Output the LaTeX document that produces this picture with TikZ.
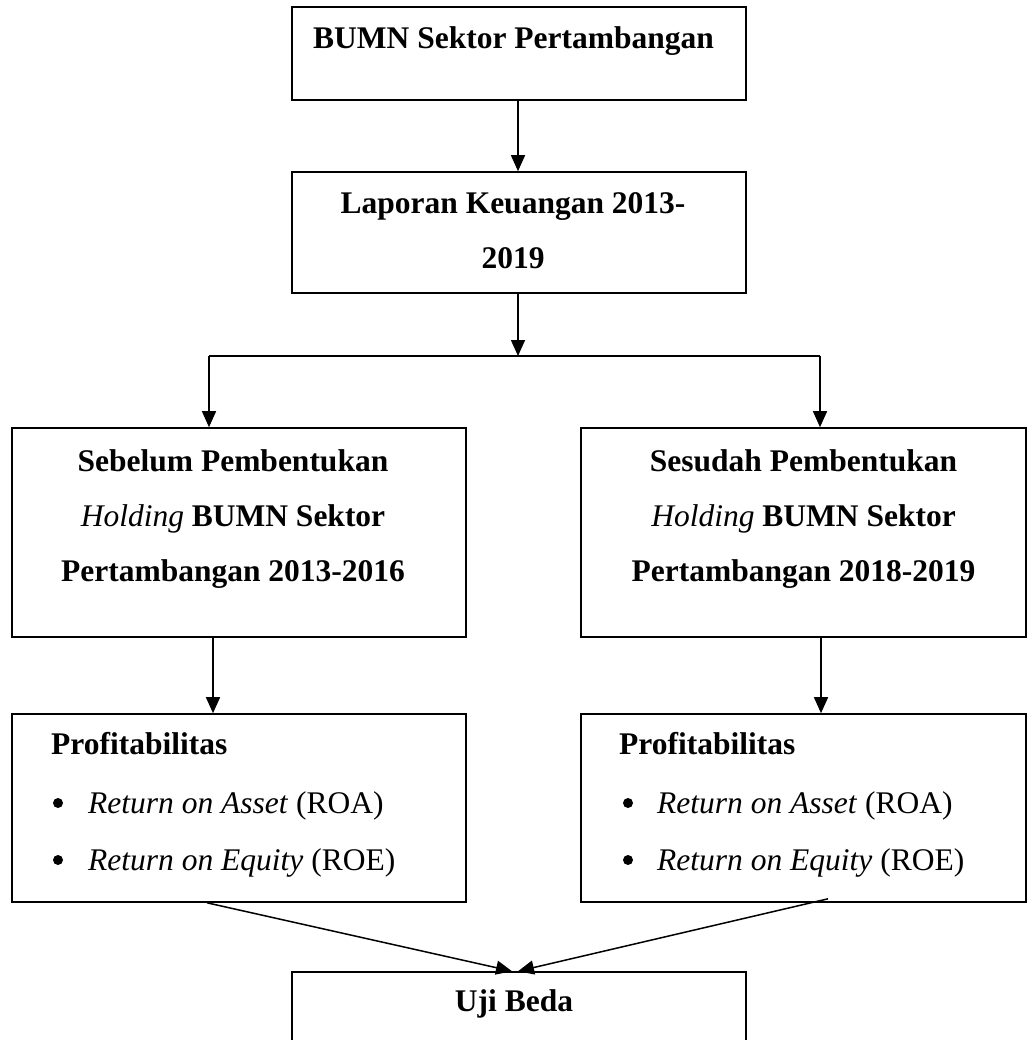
\documentclass[tikz,border=0pt]{standalone}
\usepackage{fontspec}
\setmainfont{Liberation Serif}
\usetikzlibrary{arrows.meta}
\newcommand{\hstrut}{\rule{0pt}{25pt}}
\begin{document}
\begin{tikzpicture}[x=1pt,y=-1pt,
  box/.style={draw, line width=1.6pt, inner sep=0pt},
  txt/.style={inner sep=0pt, font=\fontsize{31.5}{55}\selectfont\bfseries, align=center, anchor=north},
  head/.style={inner sep=0pt, font=\fontsize{31.5}{55}\selectfont\bfseries, anchor=base west},
  itm/.style={inner sep=0pt, font=\fontsize{31.5}{55}\selectfont, anchor=base west},
  dot/.style={fill=black},
  conn/.style={line width=1.5pt, -{Triangle[length=16pt,width=14pt]}},
  plain/.style={line width=1.5pt}
]
\useasboundingbox (0,0) rectangle (1027,1040);
\clip (0,0) rectangle (1027,1040);

% boxes
\node[box, minimum width=454pt, minimum height=93pt]  (b1) at (519,53.5) {};
\node[box, minimum width=454pt, minimum height=121pt] (b2) at (519,232.5) {};
\node[box, minimum width=454pt, minimum height=209pt] (b3) at (239,532.5) {};
\node[box, minimum width=445pt, minimum height=209pt] (b4) at (803.5,532.5) {};
\node[box, minimum width=454pt, minimum height=188pt] (b5) at (239,808) {};
\node[box, minimum width=445pt, minimum height=188pt] (b6) at (803.5,808) {};
\node[box, minimum width=454pt, minimum height=120pt] (b7) at (519,1032) {};

% texts
\node[txt] (t1) at (513.5,23) {\hstrut BUMN Sektor Pertambangan};
\node[txt] (t2) at (513,188) {\hstrut Laporan Keuangan 2013-\\2019};
\node[txt] (t3) at (233,446) {\hstrut Sebelum Pembentukan\\\textmd{\textit{Holding}} BUMN Sektor\\Pertambangan 2013-2016};
\node[txt] (t4) at (803.5,446) {\hstrut Sesudah Pembentukan\\\textmd{\textit{Holding}} BUMN Sektor\\Pertambangan 2018-2019};
\node[txt] (t7) at (514,986) {\hstrut Uji Beda};

\node[head] (p1) at (51,754) {Profitabilitas};
\node[itm] (p1a) at (88,813) {\textit{Return on Asset} (ROA)};
\node[itm] (p1b) at (88,870) {\textit{Return on Equity} (ROE)};
\fill[dot] ([xshift=-30pt,yshift=10pt]p1a.base west) circle (5pt);
\fill[dot] ([xshift=-30pt,yshift=10pt]p1b.base west) circle (5pt);

\node[head] (p2) at (619,754) {Profitabilitas};
\node[itm] (p2a) at (657,813) {\textit{Return on Asset} (ROA)};
\node[itm] (p2b) at (657,870) {\textit{Return on Equity} (ROE)};
\fill[dot] ([xshift=-29pt,yshift=10pt]p2a.base west) circle (5pt);
\fill[dot] ([xshift=-29pt,yshift=10pt]p2b.base west) circle (5pt);

% connectors
\coordinate (j) at (519,356);
\coordinate (jl) at (209,356);
\coordinate (jr) at (820,356);
\draw[conn] ([xshift=-1pt]b1.south) -- ([xshift=-1pt]b2.north);
\draw[conn] ([xshift=-1pt]b2.south) -- ([xshift=-1pt]j);
\draw[plain] (jl) -- (jr);
\draw[conn] (jl) -- (jl |- b3.north);
\draw[conn] (jr) -- (jr |- b4.north);
\draw[conn] ([xshift=-26pt]b3.south) -- ([xshift=-26pt]b5.north);
\draw[conn] ([xshift=17.5pt]b4.south) -- ([xshift=17.5pt]b6.north);
\draw[conn] ([xshift=-32pt]b5.south) -- ([xshift=-7pt]b7.north);
\draw[conn] ([xshift=24.5pt,yshift=4pt]b6.south) -- ([xshift=-1pt]b7.north);
\end{tikzpicture}
\end{document}
